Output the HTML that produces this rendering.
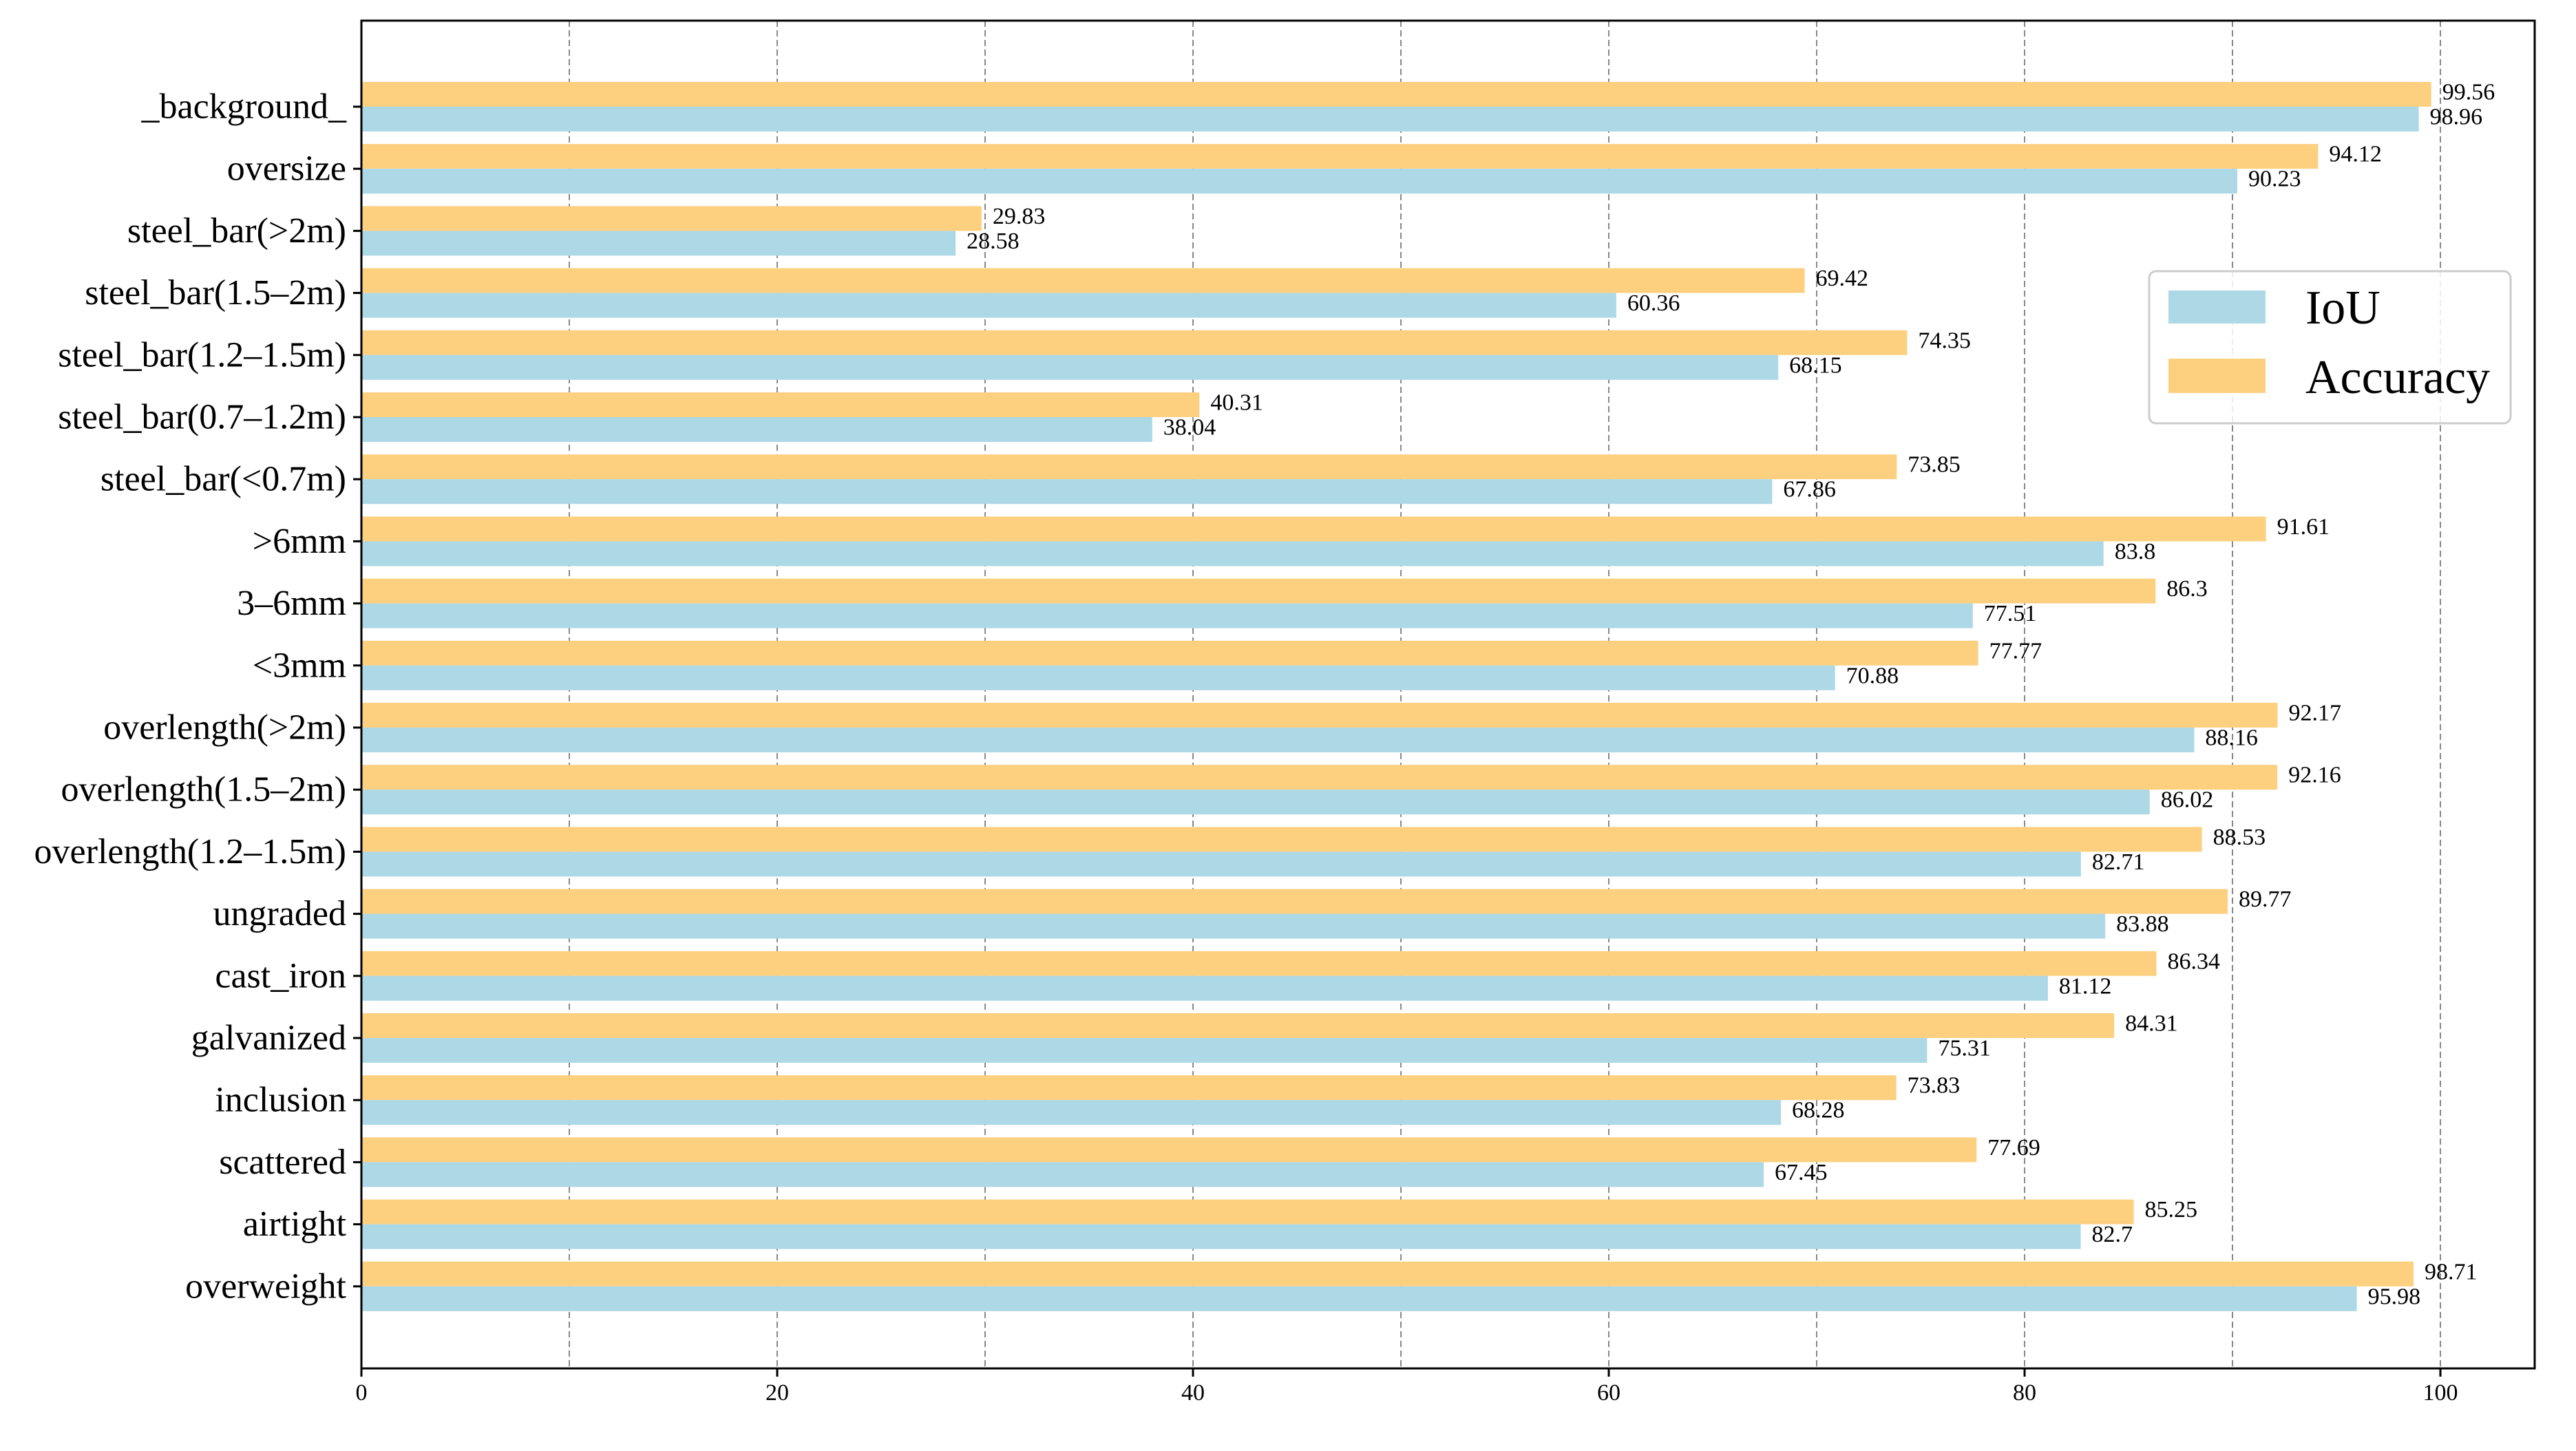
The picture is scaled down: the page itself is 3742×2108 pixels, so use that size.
<!DOCTYPE html>
<html><head><meta charset="utf-8"><style>
html,body{margin:0;padding:0;background:#fff;}
svg{display:block;}
text{font-family:"Liberation Serif","Times New Roman",serif;fill:#000;}
</style></head><body>
<svg id="chart" width="3742" height="2108" xmlns="http://www.w3.org/2000/svg">
<g id="grid"></g>
<g id="bars"></g>
<g id="vals"></g>
<g id="yt"></g>
<g id="xt"></g>
<rect x="525" y="30" width="3157" height="1958" fill="none" stroke="#000" stroke-width="3"/>
<g>
<rect x="3122" y="394" width="525" height="221" rx="10" fill="#fff" fill-opacity="0.85" stroke="#ccc" stroke-width="3"/>
<rect x="3150" y="422" width="141" height="48" fill="#add8e6"/>
<text x="3349" y="470" font-size="70">IoU</text>
<rect x="3150" y="521" width="141" height="50" fill="#fdd080"/>
<text x="3349" y="571" font-size="70">Accuracy</text>
</g>
</svg>
<script>
const categories = ["_background_","oversize","steel_bar(>2m)","steel_bar(1.5–2m)","steel_bar(1.2–1.5m)","steel_bar(0.7–1.2m)","steel_bar(<0.7m)",">6mm","3–6mm","<3mm","overlength(>2m)","overlength(1.5–2m)","overlength(1.2–1.5m)","ungraded","cast_iron","galvanized","inclusion","scattered","airtight","overweight"];
const iouValues = [98.96,90.23,28.58,60.36,68.15,38.04,67.86,83.8,77.51,70.88,88.16,86.02,82.71,83.88,81.12,75.31,68.28,67.45,82.7,95.98];
const accValues = [99.56,94.12,29.83,69.42,74.35,40.31,73.85,91.61,86.3,77.77,92.17,92.16,88.53,89.77,86.34,84.31,73.83,77.69,85.25,98.71];
const xTicks = [0,20,40,60,80,100];
const gridTicks = [10,20,30,40,50,60,70,80,90,100];

const NS="http://www.w3.org/2000/svg";
const X0=525, XPX=30.2, Y0=155, YSTEP=90.2, BH=36;
const TOP=30, BOT=1988;
function xs(v){return X0+v*XPX;}
function ys(i){return Y0+i*YSTEP;}
function mk(tag,attrs,parent){const e=document.createElementNS(NS,tag);for(const k in attrs)e.setAttribute(k,attrs[k]);parent.appendChild(e);return e;}
const G=document.getElementById('grid'),B=document.getElementById('bars'),V=document.getElementById('vals'),YT=document.getElementById('yt'),XT=document.getElementById('xt');

gridTicks.forEach(t=>{
  const l=mk('line',{x1:xs(t),x2:xs(t),y1:TOP,y2:BOT,stroke:'#888','stroke-width':2,'stroke-dasharray':'9,5'},G);
  
  
});

categories.forEach((c,i)=>{
  const cy=ys(i);
  const a=mk('rect',{x:X0,y:cy-BH,width:xs(accValues[i])-X0,height:BH,fill:'#fdd080'},B);
  
  
  const u=mk('rect',{x:X0,y:cy,width:xs(iouValues[i])-X0,height:BH,fill:'#add8e6'},B);
  
  
  const ta=mk('text',{x:xs(accValues[i])+16,y:cy-BH/2-3,'font-size':34,'dominant-baseline':'central'},V);
  ta.textContent=String(accValues[i]);
  
  
  const tu=mk('text',{x:xs(iouValues[i])+16,y:cy+BH/2-3,'font-size':34,'dominant-baseline':'central'},V);
  tu.textContent=String(iouValues[i]);
  
  
  const tk=mk('line',{x1:X0-12,x2:X0,y1:cy,y2:cy,stroke:'#000','stroke-width':3},YT);
  
  
  const lb=mk('text',{x:X0-22,y:cy,'font-size':52,'text-anchor':'end','dominant-baseline':'central'},YT);
  lb.textContent=c;
  
  
});

xTicks.forEach(t=>{
  const tk=mk('line',{x1:xs(t),x2:xs(t),y1:BOT,y2:BOT+12,stroke:'#000','stroke-width':3},XT);
  
  
  const lb=mk('text',{x:xs(t),y:2034,'font-size':34,'text-anchor':'middle'},XT);
  lb.textContent=String(t);
  
  
});
</script>
</body></html>
